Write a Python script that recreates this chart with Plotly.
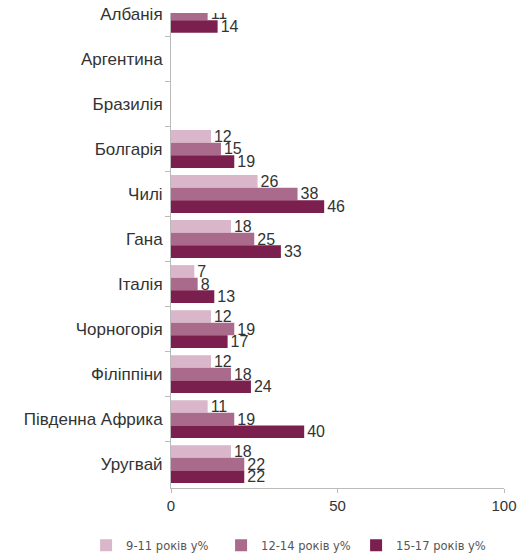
import plotly.graph_objects as go

# Countries, top to bottom
countries = ["Албанія", "Аргентина", "Бразилія", "Болгарія", "Чилі", "Гана",
             "Італія", "Чорногорія", "Філіппіни", "Південна Африка", "Уругвай"]

# Shares by age group, %
age_9_11 = [None, None, None, 12, 26, 18, 7, 12, 12, 11, 18]
age_12_14 = [11, None, None, 15, 38, 25, 8, 19, 18, 19, 22]
age_15_17 = [14, None, None, 19, 46, 33, 13, 17, 24, 40, 22]

series_names = ["9-11 років у%", "12-14 років у%", "15-17 років у%"]
colors = ["#d9b6ca", "#a96a8c", "#7b1f4f"]

x_ticks = [0, 50, 100]

FONT = "Liberation Sans, Arial, sans-serif"

fig = go.Figure()
for name, vals, col in zip(series_names, [age_9_11, age_12_14, age_15_17], colors):
    fig.add_trace(go.Bar(
        y=countries, x=vals, name=name, orientation="h",
        marker=dict(color=col, line=dict(width=0)),
        text=[("" if v is None else str(v)) for v in vals],
        textposition="outside", constraintext="none", cliponaxis=True,
        textfont=dict(family=FONT, size=16, color="#333333"),
    ))

fig.update_layout(
    width=518, height=554,
    margin=dict(l=171, r=14, t=13, b=66, autoexpand=False),
    paper_bgcolor="white", plot_bgcolor="white",
    barmode="group", bargap=0.16, bargroupgap=0,
    font=dict(family=FONT, color="#333333"),
    showlegend=True,
    legend=dict(orientation="h", x=-0.255, xanchor="left",
                y=-0.09, yanchor="top",
                font=dict(family="DejaVu Sans, sans-serif", size=11.5, color="#555555"),
                traceorder="normal", itemwidth=30,
                entrywidth=90, entrywidthmode="pixels"),
    xaxis=dict(range=[0, 100], tickvals=x_ticks, showgrid=False, zeroline=False,
               showline=True, linecolor="#bbbbbb", linewidth=1,
               ticks="outside", ticklen=4, tickcolor="#bbbbbb",
               tickfont=dict(size=15, color="#333333")),
    yaxis=dict(categoryorder="array", categoryarray=countries,
               range=[10.53, -0.02], showgrid=False, zeroline=False,
               showline=True, linecolor="#bbbbbb", linewidth=1,
               ticks="outside", ticklen=5, tickcolor="#bbbbbb", tickson="boundaries",
               ticklabelstandoff=4,
               tickfont=dict(size=17, color="#333333")),
)

fig.write_html("out.html")
